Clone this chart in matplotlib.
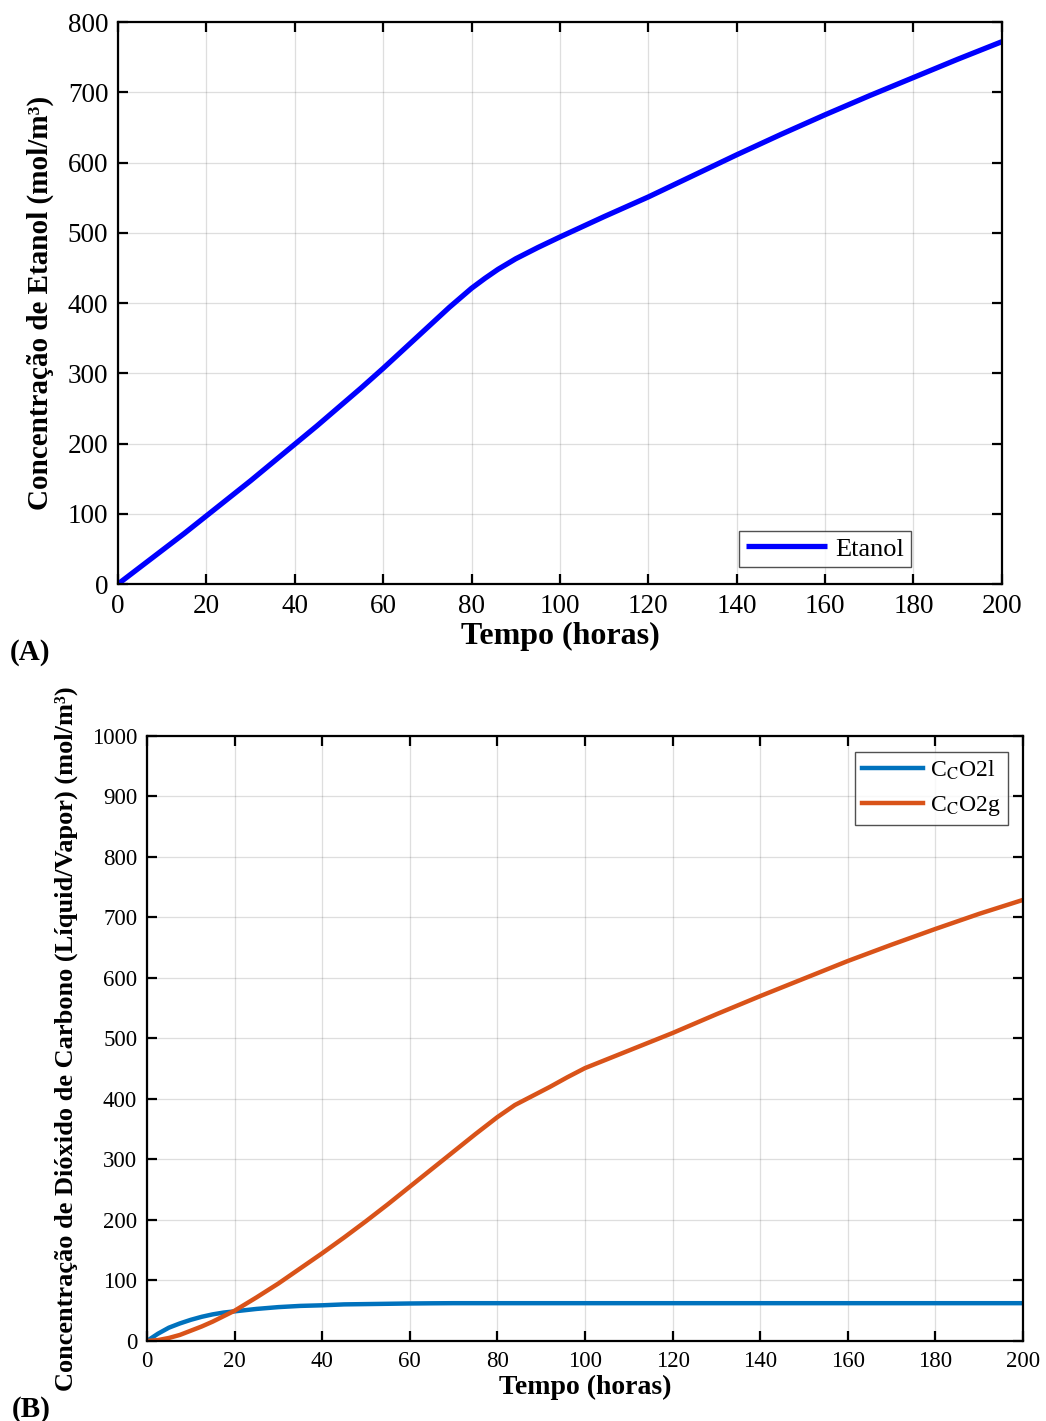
import numpy as np
import matplotlib
matplotlib.use("Agg")
import matplotlib.pyplot as plt

plt.rcParams['font.family'] = ['Liberation Serif', 'DejaVu Serif']
plt.rcParams['mathtext.fontset'] = 'stix'

# Panel A data
t_a = [0, 5, 10, 15, 20, 25, 30, 35, 40, 45, 50, 55, 60, 65, 70, 75, 80, 83, 86, 90, 95,
       100, 110, 120, 130, 140, 150, 160, 170, 180, 190, 200]
etanol = [0, 24, 48, 72, 97, 122, 147, 173, 199, 225, 252, 279, 307, 336, 365, 394, 421, 435, 448, 463, 479,
          494, 523, 551, 581, 611, 640, 668, 695, 721, 747, 772]

# Panel B data
t_b = [0, 2.5, 5, 7.5, 10, 12.5, 15, 17.5, 20, 25, 30, 35, 40, 45, 50, 55, 60, 65, 70, 75, 80, 84, 88,
       92, 96, 100, 110, 120, 130, 140, 150, 160, 170, 180, 190, 200]
co2g = [0, 1.5, 5, 10, 17, 24, 32, 41, 50, 72, 95, 120, 145, 171, 198, 226, 255, 284, 313, 342, 370, 390, 405,
        420, 436, 451, 480, 509, 540, 570, 599, 628, 655, 681, 706, 729]
co2l = [0, 12, 22, 29, 35, 40, 44, 47, 49, 53, 56, 58, 59, 60.5, 61, 61.5, 62, 62.3, 62.5, 62.5, 62.5, 62.5, 62.5,
        62.5, 62.5, 62.5, 62.5, 62.5, 62.5, 62.5, 62.5, 62.5, 62.5, 62.5, 62.5, 62.5]

fig = plt.figure(figsize=(10.46, 14.21), dpi=100)

def style(ax, fs):
    ax.grid(True, color='#262626', alpha=0.15, linewidth=0.9)
    ax.tick_params(direction='in', top=True, right=True, length=7, width=1.6, labelsize=fs, pad=7)
    for s in ax.spines.values():
        s.set_linewidth(1.6)
        s.set_color('black')
    ax.set_axisbelow(True)

axA = fig.add_axes([0.1128, 0.589, 0.845, 0.3955])
axA.plot(t_a, etanol, color=(0, 0, 1), linewidth=3.8, label='Etanol', solid_capstyle='butt')
axA.set_xlim(0, 200)
axA.set_ylim(0, 800)
axA.set_xticks(np.arange(0, 201, 20))
axA.set_yticks(np.arange(0, 801, 100))
style(axA, 19.5)
axA.set_xlabel('Tempo (horas)', fontsize=23, fontweight='bold', labelpad=2)
axA.set_ylabel('Concentração de Etanol (mol/m³)', fontsize=21, fontweight='bold', labelpad=10)
legA = axA.legend(loc='lower right', bbox_to_anchor=(0.897, 0.03), fontsize=19, frameon=True,
                  fancybox=False, edgecolor='#262626', handlelength=3.1, borderpad=0.25,
                  handletextpad=0.3, borderaxespad=0)
legA.get_frame().set_linewidth(1.0)
fig.text(0.009, 0.536, '(A)', fontsize=21, fontweight='bold')

axB = fig.add_axes([0.1405, 0.0563, 0.8375, 0.4258])
axB.plot(t_b, co2l, color='#0072BD', linewidth=3.2, label=r'C$_{\mathrm{C}}$O2l')
axB.plot(t_b, co2g, color='#D95319', linewidth=3.2, label=r'C$_{\mathrm{C}}$O2g')
axB.set_xlim(0, 200)
axB.set_ylim(0, 1000)
axB.set_xticks(np.arange(0, 201, 20))
axB.set_yticks(np.arange(0, 1001, 100))
style(axB, 16.5)
axB.set_xlabel('Tempo (horas)', fontsize=20, fontweight='bold', labelpad=2)
axB.set_ylabel('Concentração de Dióxido de Carbono (Líquid/Vapor) (mol/m³)', fontsize=19,
               fontweight='bold', labelpad=10)
legB = axB.legend(loc='upper right', bbox_to_anchor=(0.983, 0.974), fontsize=17, frameon=True,
                  fancybox=False, edgecolor='#262626', handlelength=2.6, borderpad=0.3,
                  handletextpad=0.3, borderaxespad=0, labelspacing=0.5)
legB.get_frame().set_linewidth(1.0)
fig.text(0.011, 0.003, '(B)', fontsize=21, fontweight='bold')

fig.savefig('out.png', dpi=100)
